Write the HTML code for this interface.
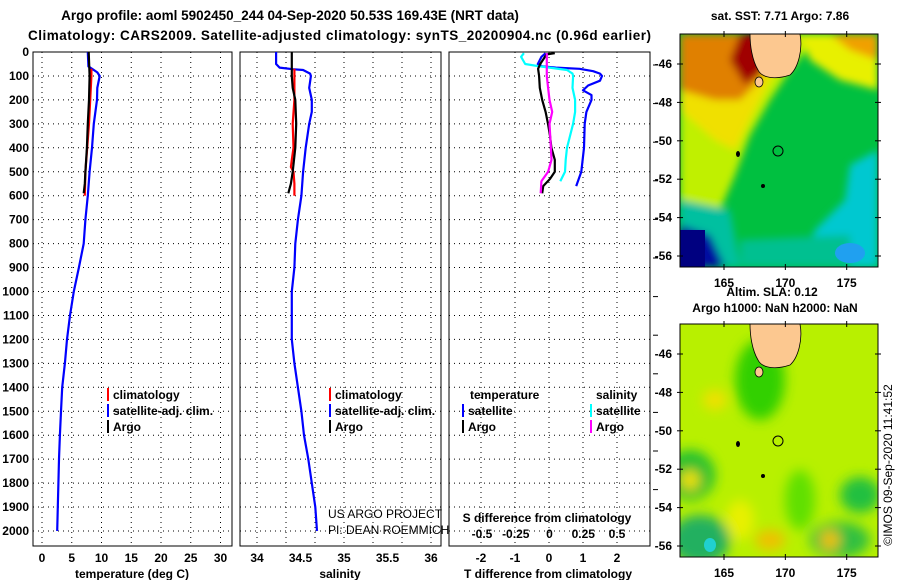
<!DOCTYPE html>
<html><head><meta charset="utf-8"><style>
html,body{margin:0;padding:0;background:#fff;}
svg{display:block;font-family:"Liberation Sans",sans-serif;}
.b{font-weight:bold;font-size:12px;fill:#000;}
.grid{stroke:#000;stroke-width:1;stroke-dasharray:1,4;}
</style></head><body>
<svg id="fig" width="900" height="580" viewBox="0 0 900 580">
<text x="290" y="20" text-anchor="middle" class="b" style="font-size:13.5px">Argo profile: aoml 5902450_244 04-Sep-2020 50.53S 169.43E (NRT data)</text>
<text x="28" y="40" textLength="623" class="b" style="font-size:13.5px">Climatology: CARS2009. Satellite-adjusted climatology: synTS_20200904.nc (0.96d earlier)</text>
<g id="plots"></g>

<!-- top map -->
<defs>
<filter id="bl" x="-20%" y="-20%" width="140%" height="140%"><feGaussianBlur stdDeviation="6"/></filter>
<filter id="bl2" x="-20%" y="-20%" width="140%" height="140%"><feGaussianBlur stdDeviation="4"/></filter>
<clipPath id="c1"><rect x="680" y="34" width="198" height="233"/></clipPath>
<clipPath id="c2"><rect x="680" y="324" width="198" height="233"/></clipPath>
</defs>
<g clip-path="url(#c1)">
<rect x="680" y="34" width="198" height="233" fill="#00c040"/>
<g filter="url(#bl2)">
<polygon points="680,34 820,34 790,70 770,100 750,135 735,175 720,210 690,230 680,230" fill="#c0f000"/>
<polygon points="680,34 800,34 770,80 752,115 735,150 715,140 680,110" fill="#f0e000"/>
<polygon points="680,34 780,34 760,80 740,100 715,100 680,90" fill="#e08000"/>
<polygon points="740,34 775,34 765,70 745,85 730,60" fill="#a00000"/>
<polygon points="800,34 878,34 878,90 840,80 810,60" fill="#e8f000"/>
<polygon points="830,34 878,34 878,60 850,50" fill="#f0a000"/>
<polygon points="680,200 730,210 740,267 680,267" fill="#00c0a0"/>
<polygon points="680,225 710,235 725,267 680,267" fill="#0010a0"/>
<polygon points="850,165 878,150 878,267 800,267 815,230 845,200" fill="#00c8d0"/>
<polygon points="740,240 850,235 850,267 740,267" fill="#00c090"/>
</g>
<rect x="680" y="230" width="25" height="37" fill="#000080"/>
<ellipse cx="850" cy="253" rx="15" ry="10" fill="#20a0f0"/>
<path d="M750,34 L800,34 C803,50 798,68 790,75 C775,80 762,78 758,70 C752,60 750,45 750,34Z" fill="#fcc890" stroke="#000" stroke-width="0.8"/>
<ellipse cx="759" cy="82" rx="4" ry="5" fill="#fcc890" stroke="#000" stroke-width="0.8"/>
<circle cx="763" cy="186" r="2" fill="#000"/>
<ellipse cx="738" cy="154" rx="2" ry="3" fill="#000"/>
<circle cx="778" cy="151" r="5" fill="none" stroke="#000"/>
</g>
<rect x="680" y="34" width="198" height="233" fill="none" stroke="#000"/>

<!-- bottom map -->
<g clip-path="url(#c2)">
<rect x="680" y="324" width="198" height="233" fill="#b8f000"/>
<g filter="url(#bl)">
<ellipse cx="760" cy="380" rx="25" ry="40" fill="#30d000"/>
<ellipse cx="690" cy="475" rx="25" ry="25" fill="#20c030"/>
<ellipse cx="700" cy="540" rx="30" ry="25" fill="#20b060"/>
<ellipse cx="860" cy="495" rx="20" ry="18" fill="#20c040"/>
<ellipse cx="840" cy="540" rx="30" ry="18" fill="#30c040"/>
<ellipse cx="800" cy="500" rx="15" ry="30" fill="#60e000"/>
<ellipse cx="715" cy="400" rx="12" ry="10" fill="#f0e000"/>
<ellipse cx="770" cy="540" rx="15" ry="10" fill="#f0c000"/>
<ellipse cx="830" cy="540" rx="10" ry="10" fill="#f0c000"/>
<ellipse cx="690" cy="480" rx="10" ry="10" fill="#f0e000"/>
<ellipse cx="740" cy="520" rx="14" ry="20" fill="#e8f000"/>
</g>
<ellipse cx="710" cy="545" rx="6" ry="7" fill="#20d0d0"/>
<path d="M750,324 L800,324 C803,340 798,358 790,365 C775,370 762,368 758,360 C752,350 750,335 750,324Z" fill="#fcc890" stroke="#000" stroke-width="0.8"/>
<ellipse cx="759" cy="372" rx="4" ry="5" fill="#fcc890" stroke="#000" stroke-width="0.8"/>
<circle cx="763" cy="476" r="2" fill="#000"/>
<ellipse cx="738" cy="444" rx="2" ry="3" fill="#000"/>
<circle cx="778" cy="441" r="5" fill="none" stroke="#000"/>
</g>
<rect x="680" y="324" width="198" height="233" fill="none" stroke="#000"/>
<g id="maplabels"></g>
<text x="780" y="20" text-anchor="middle" class="b">sat. SST: 7.71 Argo: 7.86</text>
<text x="772" y="296" text-anchor="middle" class="b">Altim. SLA: 0.12</text>
<text x="775" y="312" text-anchor="middle" class="b">Argo h1000: NaN h2000: NaN</text>
<text transform="translate(892,465) rotate(-90)" text-anchor="middle" style="font-size:12px">©IMOS 09-Sep-2020 11:41:52</text>
</svg>
<script>
// ----- data -----
var depthTicks = [0,100,200,300,400,500,600,700,800,900,1000,1100,1200,1300,1400,1500,1600,1700,1800,1900,2000];
var tempTicks = [0,5,10,15,20,25,30];
var salTicks = [34,34.5,35,35.5,36];
var tdiffTicks = [-2,-1,0,1,2];
var sdiffTicks = [-0.5,-0.25,0,0.25,0.5];
var sdiffTickLabels = ["-0.5","-0.25","0","0.25","0.5"];

var tSatDepth = [0,60,72,85,100,150,200,300,400,500,600,700,800,900,1000,1100,1200,1300,1400,1500,1600,1700,1800,1900,2000];
var tSatVal   = [7.7,7.8,8.5,9.3,9.7,9.3,9.25,8.7,8.4,8.0,7.7,7.3,7.0,6.2,5.35,4.7,4.2,3.85,3.4,3.2,3.0,2.85,2.75,2.65,2.55];
var tClimDepth = [70,100,150,200,300,400,500,600];
var tClimVal   = [8.3,8.3,8.2,8.1,7.9,7.6,7.3,7.2];
var tArgoDepth = [0,100,200,300,400,500,550,590];
var tArgoVal   = [7.85,8.0,7.9,7.7,7.55,7.3,7.2,7.0];

var sSatDepth = [0,50,65,72,75,90,100,150,200,250,300,400,500,600,700,800,900,1000,1100,1200,1300,1400,1500,1600,1700,1800,1900,2000];
var sSatVal   = [34.22,34.22,34.26,34.41,34.53,34.61,34.62,34.60,34.63,34.63,34.60,34.56,34.53,34.51,34.47,34.44,34.43,34.40,34.40,34.40,34.43,34.47,34.51,34.54,34.59,34.63,34.67,34.69];
var sClimDepth = [70,100,200,300,400,450,480,500,550,600];
var sClimVal   = [34.43,34.43,34.43,34.41,34.42,34.40,34.39,34.42,34.43,34.43];
var sArgoDepth = [0,100,150,200,300,400,500,550,590];
var sArgoVal   = [34.40,34.40,34.41,34.44,34.45,34.44,34.41,34.39,34.36];

var dTSatDepth = [5,20,50,60,65,70,80,90,100,120,140,160,180,200,250,300,400,500,560];
var dTSatVal   = [-0.1,-0.22,-0.33,-0.2,0.2,0.9,1.3,1.5,1.56,1.5,1.15,1.0,1.25,1.25,1.1,1.05,1.03,0.95,0.8];
var dSSatDepth = [5,20,50,60,65,75,90,100,150,200,250,300,400,450,500,540];
var dSSatVal   = [-0.19,-0.21,-0.18,-0.07,0.0,0.13,0.17,0.175,0.17,0.19,0.19,0.175,0.13,0.12,0.115,0.08];
var dTArgoDepth = [5,10,50,70,100,150,200,250,300,350,400,450,500,530,560,590];
var dTArgoVal   = [0.17,-0.07,-0.26,-0.32,-0.29,-0.27,-0.2,-0.1,-0.03,0.03,0.07,0.17,0.17,0.03,-0.17,-0.2];
var dSArgoDepth = [5,50,80,100,150,200,250,300,400,450,500,540,590];
var dSArgoVal   = [-0.02,-0.02,-0.02,-0.02,-0.01,0.0,0.02,0.0,0.01,0.015,-0.01,-0.06,-0.065];

var latTicks = [-46,-48,-50,-52,-54,-56];
var lonTicks = [165,170,175];

// ----- scales -----
var NS = "http://www.w3.org/2000/svg";
var root = document.getElementById('plots');
function yD(d){ return 52 + d*0.2395; }
function xT(t){ return 42 + t*5.95; }
function xS(s){ return 257 + (s-34)*87; }
function xDT(v){ return 549 + v*34; }
function xDS(v){ return 549.5 + v*135; }
function mk(tag, attrs, parent){ var e=document.createElementNS(NS,tag); for(var k in attrs) e.setAttribute(k,attrs[k]); (parent||root).appendChild(e); return e; }
function txt(x,y,s,anchor,parent){ var t=mk('text',{x:x,y:y,'class':'b','text-anchor':anchor||'middle'},parent); t.textContent=s; return t; }

var panels = [{l:33,r:232,name:'temperature-panel'},{l:240,r:441,name:'salinity-panel'},{l:449,r:650,name:'difference-panel'}];
var gridX = [
  tempTicks.map(xT),
  [0,1,2,3,4,5,6].map(function(i){return 257+i*29;}),
  tdiffTicks.map(xDT)
];
panels.forEach(function(p,i){
  var g = mk('g',{});
  
  
  depthTicks.forEach(function(d){ mk('line',{x1:p.l,x2:p.r,y1:yD(d),y2:yD(d),'class':'grid'},g); });
  gridX[i].forEach(function(x){ mk('line',{x1:x,x2:x,y1:52,y2:546,'class':'grid'},g); });
  mk('rect',{x:p.l,y:52,width:p.r-p.l,height:494,fill:'none',stroke:'#000','stroke-width':1},g);
  p.g = g;
});
// depth tick labels
var yl = mk('g',{});


depthTicks.forEach(function(d){ txt(29,yD(d)+4,String(d),'end',yl); });
// small dashes right of panel 3
for(var i=0;i<12;i++){ mk('line',{x1:653,x2:658,y1:65+i*38.6,y2:65+i*38.6,stroke:'#000'}); }

var xl1 = mk('g',{});


tempTicks.forEach(function(t){ txt(xT(t),562,String(t),'middle',xl1); });
txt(132,578,'temperature (deg C)','middle',xl1);
var xl2 = mk('g',{});


salTicks.forEach(function(s){ txt(xS(s),562,String(s),'middle',xl2); });
txt(340,578,'salinity','middle',xl2);
var xl3 = mk('g',{});


tdiffTicks.forEach(function(t){ txt(xDT(t),562,String(t),'middle',xl3); });
txt(548,578,'T difference from climatology','middle',xl3);
var xl4 = mk('g',{});


sdiffTicks.forEach(function(t,i){ txt(xDS(t),538,sdiffTickLabels[i],'middle',xl4); });
txt(547,522,'S difference from climatology','middle',xl4);

function line(depths, vals, xf, color, name){
  var pts = depths.map(function(d,i){ return xf(vals[i]).toFixed(1)+','+yD(d).toFixed(1); }).join(' ');
  var e = mk('polyline',{points:pts,fill:'none',stroke:color,'stroke-width':2.2,'stroke-linejoin':'round'});
  
  
}
line(tSatDepth,tSatVal,xT,'#0000ff','temperature-satellite-line');
line(tClimDepth,tClimVal,xT,'#ff0000','temperature-climatology-line');
line(tArgoDepth,tArgoVal,xT,'#000000','temperature-argo-line');
line(sSatDepth,sSatVal,xS,'#0000ff','salinity-satellite-line');
line(sClimDepth,sClimVal,xS,'#ff0000','salinity-climatology-line');
line(sArgoDepth,sArgoVal,xS,'#000000','salinity-argo-line');
line(dTSatDepth,dTSatVal,xDT,'#0000ff','tdiff-satellite-line');
line(dSSatDepth,dSSatVal,xDS,'#00ffff','sdiff-satellite-line');
line(dTArgoDepth,dTArgoVal,xDT,'#000000','tdiff-argo-line');
line(dSArgoDepth,dSArgoVal,xDS,'#ff00ff','sdiff-argo-line');

function legendItem(x,y,color,label,name){
  var g = mk('g',{});
  
  
  if(color) mk('rect',{x:x,y:y-11,width:2,height:13,fill:color},g);
  txt(x+6,y,label,'start',g);
}
legendItem(107,399,'#ff0000','climatology','legend-climatology-t');
legendItem(107,415,'#0000ff','satellite-adj. clim.','legend-satellite-t');
legendItem(107,431,'#000000','Argo','legend-argo-t');
legendItem(329,399,'#ff0000','climatology','legend-climatology-s');
legendItem(329,415,'#0000ff','satellite-adj. clim.','legend-satellite-s');
legendItem(329,431,'#000000','Argo','legend-argo-s');
legendItem(464,399,null,'temperature','legend-temperature-heading');
legendItem(462,415,'#0000ff','satellite','legend-satellite-tdiff');
legendItem(462,431,'#000000','Argo','legend-argo-tdiff');
legendItem(590,399,null,'salinity','legend-salinity-heading');
legendItem(590,415,'#00ffff','satellite','legend-satellite-sdiff');
legendItem(590,431,'#ff00ff','Argo','legend-argo-sdiff');

var c1 = mk('text',{x:328,y:518,'font-size':'12px'}); c1.textContent='US ARGO PROJECT';
 
var c2 = mk('text',{x:328,y:534,'font-size':'12px'}); c2.textContent='PI: DEAN ROEMMICH';
 

// map axes
var ml = document.getElementById('maplabels');
function latY(lat,top){ return top + 30 + (-46 - lat)*19.2; }
function lonX(lon){ return 724 + (lon-165)*12.27; }
[34,324].forEach(function(top,k){
  latTicks.forEach(function(l){
    var y = latY(l,top);
    mk('line',{x1:677,x2:683,y1:y,y2:y,stroke:'#000'},ml);
    mk('line',{x1:875,x2:881,y1:y,y2:y,stroke:'#000'},ml);
    txt(672,y+4,String(l),'end',ml);
  });
  lonTicks.forEach(function(l){
    var x = lonX(l);
    mk('line',{x1:x,x2:x,y1:top-3,y2:top+3,stroke:'#000'},ml);
    mk('line',{x1:x,x2:x,y1:top+230,y2:top+236,stroke:'#000'},ml);
    txt(x,top+253,String(l),'middle',ml);
  });
});
</script>
</body></html>
